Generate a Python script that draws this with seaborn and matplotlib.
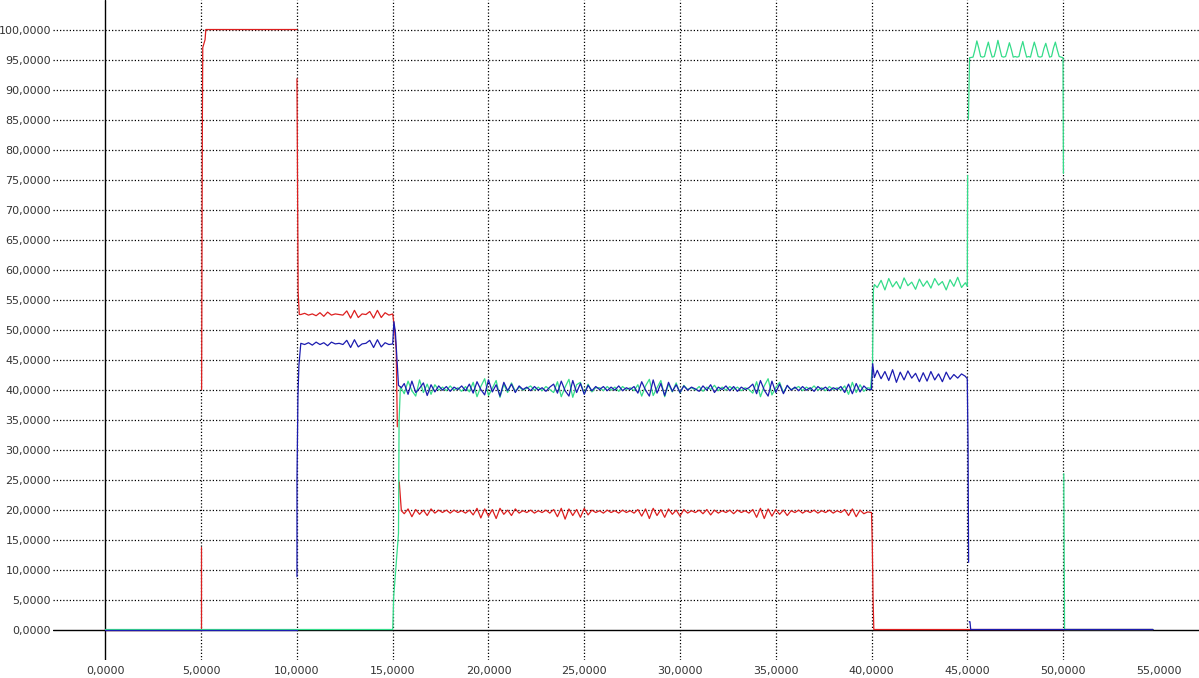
import numpy as np
import pandas as pd
import matplotlib
matplotlib.use("Agg")
import matplotlib.pyplot as plt
from matplotlib.ticker import FuncFormatter
import seaborn as sns

# ---------------------------------------------------------------------------
# Recorded channels (time in s, value in %)
# ---------------------------------------------------------------------------
x_ticks = [0, 5, 10, 15, 20, 25, 30, 35, 40, 45, 50, 55]
y_ticks = [0, 5, 10, 15, 20, 25, 30, 35, 40, 45, 50, 55, 60, 65, 70, 75, 80, 85, 90, 95, 100]

# --- red channel -----------------------------------------------------------
red_start_t = [0.0, 5.0, 5.0]
red_start_v = [0.0, 0.0, 13.8]
red_top_t = [5.02, 5.04, 5.06, 5.08, 5.2, 5.24, 10.0]
red_top_v = [40.0, 64.0, 85.0, 97.0, 98.3, 100.0, 100.0]
red_drop_t = [10.0, 10.06, 10.12]
red_drop_v = [91.8, 56.3, 52.5]
red_hold = [52.5, 52.7, 52.4, 52.6, 52.3, 52.8, 52.2, 52.9, 52.4, 52.6, 52.5, 52.4,
            53.1, 51.9, 53.2, 52.0, 52.6, 52.5, 53.0, 51.9, 53.2, 52.0, 52.8, 52.4]
red_fall_t = [15.0, 15.1, 15.18, 15.24]
red_fall_v = [52.6, 49.9, 46.6, 33.8]
red_settle_t = [15.34, 15.45]
red_settle_v = [24.6, 19.8]
red_run = [19.3, 20.1, 18.8, 20.0, 19.2, 19.9, 19.0, 20.1, 19.4, 19.9,
           19.5, 19.9, 19.4, 19.9, 19.5, 19.8, 19.4,
           19.9, 19.1, 20.2, 18.6, 20.1, 18.9, 20.0, 18.5, 20.2, 19.2, 19.9, 19.0, 20.1, 19.4, 19.8,
           19.5, 19.9, 19.4, 19.8, 19.5, 19.9, 19.4,
           20.0, 18.8, 20.2, 18.4, 20.1, 19.0, 20.0, 18.7, 20.2, 19.1, 19.9, 19.5,
           19.8, 19.4, 19.9, 19.5, 19.8, 19.4, 19.9, 19.5, 19.8, 19.4,
           20.0, 18.9, 20.1, 18.5, 20.2, 19.0, 20.0, 18.7, 20.1, 19.2, 19.9, 18.9, 20.0, 19.4, 19.8,
           19.5, 19.9, 19.3, 20.0, 19.1, 19.9, 19.4, 19.8, 19.5, 19.9, 19.3, 19.9, 19.5, 19.8, 19.4,
           20.0, 18.7, 20.2, 18.5, 20.1, 18.9, 20.0, 19.2, 19.9, 19.0, 19.8,
           19.5, 19.9, 19.4, 19.8, 19.5, 19.9, 19.4, 19.8, 19.5, 19.9, 19.4, 19.8, 19.5,
           20.0, 19.0, 20.1, 18.8, 19.9, 19.3, 19.6]
red_end_t = [40.0, 40.04, 40.08, 40.12, 54.7]
red_end_v = [19.5, 14.3, 5.3, 0.0, 0.0]

# --- blue channel ----------------------------------------------------------
blue_start_t = [0.0, 10.0]
blue_start_v = [0.0, 0.0]
blue_rise_t = [10.0, 10.0, 10.05, 10.1]
blue_rise_v = [8.8, 25.0, 38.8, 44.0]
blue_hold = [47.7, 47.5, 47.8, 47.4, 47.9, 47.5, 47.8, 47.3, 47.9, 47.6, 47.7, 47.5,
             48.2, 47.0, 48.3, 47.1, 47.6, 47.7, 48.2, 47.0, 48.3, 47.1, 47.8, 47.5]
blue_step_t = [15.0, 15.06, 15.14, 15.22, 15.3, 15.45]
blue_step_v = [47.6, 51.3, 49.5, 45.0, 40.7, 40.3]
blue_run = [41.0, 39.2, 41.4, 39.5, 40.2, 41.1, 39.0, 40.8, 39.6, 40.6,
            39.9, 40.5, 39.7, 40.4, 40.0, 40.6, 39.8,
            40.9, 39.4, 41.3, 40.0, 39.1, 41.6, 39.6, 40.8, 38.9, 41.2, 39.8, 40.9, 39.5, 40.6, 40.0,
            40.4, 39.8, 40.5, 39.9, 40.3, 39.7, 40.4,
            40.9, 39.4, 41.4, 39.8, 38.9, 41.5, 39.5, 41.0, 39.2, 40.7, 39.8, 40.5,
            40.0, 40.5, 39.8, 40.4, 39.9, 40.6, 39.8, 40.3, 40.0, 40.5,
            39.4, 41.3, 39.9, 38.9, 41.6, 39.4, 41.0, 39.0, 41.2, 39.7, 40.8, 39.5, 40.6, 39.9, 40.4,
            40.1, 39.7, 40.6, 39.9, 40.8, 39.5, 40.4, 40.0, 40.6, 39.8, 40.5, 39.7, 40.4, 40.0, 40.3,
            40.9, 39.3, 41.5, 39.9, 38.9, 41.4, 39.5, 40.9, 39.3, 40.7, 39.9,
            40.4, 39.8, 40.5, 39.9, 40.3, 39.7, 40.5, 40.0, 40.4, 39.8, 40.3, 40.0, 40.5,
            39.5, 40.9, 39.3, 41.0, 39.6, 40.6, 40.0]
blue_jump_t = [40.0, 40.06, 40.15]
blue_jump_v = [40.0, 44.3, 42.0]
blue_late = [43.2, 41.8, 43.0, 41.5, 43.3, 41.2, 42.9, 41.6, 43.1, 41.9, 42.7, 41.3,
             42.8, 41.4, 43.0, 41.6, 42.6, 41.3, 42.9, 41.7, 42.5, 41.9, 42.6, 42.2]
blue_fall_t = [45.0, 45.04, 45.07]
blue_fall_v = [41.8, 30.7, 11.2]
blue_end_t = [45.1, 45.14, 45.18, 54.7]
blue_end_v = [1.3, 1.3, 0.0, 0.0]

# --- green channel ---------------------------------------------------------
green_start_t = [0.0, 15.0, 15.05, 15.3, 15.33, 15.4]
green_start_v = [0.0, 0.0, 5.5, 16.0, 34.6, 40.5]
green_run = [39.3, 41.4, 39.8, 38.9, 41.6, 39.5, 40.9, 39.2, 40.8, 39.9,
             40.4, 39.8, 40.6, 39.9, 40.3, 39.7, 40.5,
             39.6, 41.2, 38.8, 40.5, 41.8, 39.0, 40.2, 41.5, 38.7, 40.9, 39.5, 41.1, 39.7, 40.4, 39.9,
             40.2, 40.6, 39.9, 40.4, 39.8, 40.5, 40.0,
             39.5, 41.3, 38.8, 40.4, 41.7, 38.7, 40.8, 41.2, 39.3, 40.9, 39.6, 40.3,
             40.3, 39.8, 40.5, 39.9, 40.4, 39.7, 40.5, 40.0, 40.3, 39.8,
             40.8, 38.9, 40.6, 41.7, 39.0, 40.3, 41.5, 38.8, 40.9, 39.6, 41.1, 39.4, 40.7, 40.0, 40.3,
             39.9, 40.5, 39.7, 40.4, 40.0, 40.7, 39.8, 40.4, 39.9, 40.5, 40.0, 40.4, 39.8, 40.3, 40.0,
             39.4, 41.3, 38.8, 40.6, 41.8, 39.1, 40.3, 41.2, 39.5, 40.6, 40.0,
             40.2, 40.5, 39.8, 40.4, 40.0, 40.6, 39.9, 40.3, 39.8, 40.5, 40.0, 40.3, 39.9,
             40.6, 39.2, 41.2, 39.5, 40.8, 39.7, 40.3]
green_jump_t = [39.95, 40.05, 40.1, 40.15]
green_jump_v = [40.2, 44.0, 56.6, 57.5]
green_mid = [57.0, 58.2, 56.6, 58.5, 57.1, 58.0, 56.8, 58.6, 57.3, 57.9, 56.7, 58.4,
             57.2, 58.1, 56.9, 58.5, 57.4, 58.0, 56.6, 58.3, 57.2, 58.7, 57.0, 57.8]
green_climb_t = [45.0, 45.02]
green_climb_v = [57.2, 75.7]
green_top_t = [45.06, 45.12]
green_top_v = [85.0, 95.3]
green_top = [95.4, 96.6, 98.1, 96.9, 95.5, 95.4, 95.5, 96.8, 97.9, 96.5, 95.4, 95.5,
             96.7, 98.2, 96.8, 95.5, 95.4, 95.5, 96.6, 97.8, 96.7, 95.4, 95.5, 95.4,
             95.5, 96.9, 98.0, 96.6, 95.4, 95.5, 95.4, 96.7, 97.9, 96.8, 95.5, 95.4,
             95.5, 96.8, 97.7, 96.5, 95.4, 95.5, 96.9, 97.9, 96.6, 95.5, 95.4]
green_drop_t = [50.0, 50.02]
green_drop_v = [95.3, 76.0]
green_end_t = [50.04, 50.08, 54.7]
green_end_v = [26.0, 0.0, 0.0]


def sampled(start, step, values):
    """Time stamps for a block of evenly sampled values."""
    return list(np.round(start + step * np.arange(len(values)), 3)), list(values)


def join(*blocks):
    t, v = [], []
    for bt, bv in blocks:
        t += list(bt)
        v += list(bv)
    return t, v


red_pieces = [
    join((red_start_t, red_start_v)),
    join((red_top_t, red_top_v)),
    join((red_drop_t, red_drop_v), sampled(10.2, 0.2, red_hold), (red_fall_t, red_fall_v)),
    join((red_settle_t, red_settle_v), sampled(15.6, 0.2, red_run), (red_end_t, red_end_v)),
]
blue_pieces = [
    join((blue_start_t, blue_start_v)),
    join((blue_rise_t, blue_rise_v), sampled(10.2, 0.2, blue_hold), (blue_step_t, blue_step_v),
         sampled(15.6, 0.2, blue_run), (blue_jump_t, blue_jump_v),
         sampled(40.3, 0.2, blue_late), (blue_fall_t, blue_fall_v)),
    join((blue_end_t, blue_end_v)),
]
green_pieces = [
    join((green_start_t, green_start_v), sampled(15.6, 0.2, green_run),
         (green_jump_t, green_jump_v), sampled(40.3, 0.2, green_mid),
         (green_climb_t, green_climb_v)),
    join((green_top_t, green_top_v), sampled(45.3, 0.1, green_top), (green_drop_t, green_drop_v)),
    join((green_end_t, green_end_v)),
]


def to_frame(pieces):
    rows = []
    for k, (t, v) in enumerate(pieces):
        rows += [(ti, vi, k) for ti, vi in zip(t, v)]
    return pd.DataFrame(rows, columns=["t", "v", "piece"])


# ---------------------------------------------------------------------------
# Figure
# ---------------------------------------------------------------------------
sns.set_style("white")
plt.rcParams["font.family"] = ["DejaVu Sans"]

W, H = 1199, 678
fig = plt.figure(figsize=(W / 100, H / 100), dpi=100)
ax = fig.add_axes([53 / W, 18 / H, 1 - 53 / W, 1 - 18 / H])

ax.set_xlim(-2.74, 57.1)
ax.set_ylim(-5.08, 104.92)

# dotted grid and the two solid axis lines through the origin
grid_style = dict(color="black", lw=0.9, ls=(0, (1, 1.6)), zorder=0.5)
for yv in y_ticks[1:]:
    ax.axhline(yv, **grid_style)
for xv in x_ticks[1:-1]:
    ax.axvline(xv, **grid_style)
ax.axhline(0, color="black", lw=1.0, zorder=0.6)
ax.axvline(0, color="black", lw=1.0, zorder=0.6)

for pieces, colour in [(red_pieces, "#dd2020"), (green_pieces, "#35dc8a"), (blue_pieces, "#1c1cb0")]:
    sns.lineplot(data=to_frame(pieces), x="t", y="v", units="piece", estimator=None,
                 sort=False, color=colour, lw=0.9, ax=ax, legend=False, zorder=2)

comma_fmt = FuncFormatter(lambda val, pos: f"{val:.4f}".replace(".", ","))
ax.set_xticks(x_ticks)
ax.set_yticks(y_ticks)
ax.xaxis.set_major_formatter(comma_fmt)
ax.yaxis.set_major_formatter(comma_fmt)
ax.tick_params(axis="both", length=0, labelsize=8, labelcolor="#333333")
ax.tick_params(axis="x", pad=4)
ax.tick_params(axis="y", pad=1.5)
ax.set_xlabel("")
ax.set_ylabel("")
for side in ax.spines.values():
    side.set_visible(False)

fig.savefig("out.png", dpi=100)
